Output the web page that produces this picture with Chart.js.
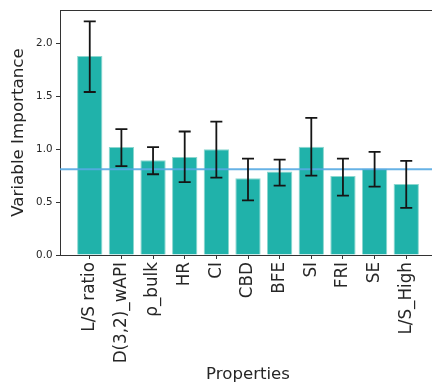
<!DOCTYPE html>
<html>
<head>
<meta charset="utf-8">
<script src="https://cdn.jsdelivr.net/npm/chart.js@4.4.1/dist/chart.umd.min.js"></script>
<style>
  html, body { margin: 0; padding: 0; background: #fff; overflow: hidden; }
  #wrap { width: 440px; height: 388px; }
</style>
</head>
<body>
<div id="wrap"><canvas id="c" width="440" height="388"></canvas></div>
<script>
// Variable importance per property, with error bar bounds
const properties = ['L/S ratio', 'D(3,2)_wAPI', 'ρ_bulk', 'HR', 'CI', 'CBD', 'BFE', 'SI', 'FRI', 'SE', 'L/S_High'];
const importance = [1.88, 1.02, 0.895, 0.925, 1.0, 0.725, 0.788, 1.022, 0.747, 0.814, 0.672];
const errLow  = [1.54, 0.84, 0.763, 0.688, 0.731, 0.517, 0.656, 0.75, 0.561, 0.646, 0.445];
const errHigh = [2.207, 1.19, 1.019, 1.167, 1.261, 0.911, 0.902, 1.296, 0.911, 0.974, 0.889];
const threshold = 0.81;
const yTicks = [0, 0.5, 1.0, 1.5, 2.0];

const axisColor = '#333333';
const textColor = '#262626';

// Draws the reference line, the error bars and the top spine
const overlay = {
  id: 'overlay',
  afterDatasetsDraw(chart) {
    const { ctx, chartArea, scales } = chart;
    const x = scales.x, y = scales.y;
    ctx.save();
    // horizontal reference line across the axes
    const ty = y.getPixelForValue(threshold);
    ctx.strokeStyle = 'rgba(86,170,226,0.9)';
    ctx.lineWidth = 2;
    ctx.beginPath();
    ctx.moveTo(chartArea.left, ty);
    ctx.lineTo(chartArea.right, ty);
    ctx.stroke();
    // error bars
    ctx.strokeStyle = '#151515';
    ctx.lineWidth = 1.8;
    const cap = 6;
    importance.forEach((v, i) => {
      const px = x.getPixelForValue(i);
      const lo = y.getPixelForValue(errLow[i]);
      const hi = y.getPixelForValue(errHigh[i]);
      ctx.beginPath();
      ctx.moveTo(px, lo); ctx.lineTo(px, hi);
      ctx.moveTo(px - cap, lo); ctx.lineTo(px + cap, lo);
      ctx.moveTo(px - cap, hi); ctx.lineTo(px + cap, hi);
      ctx.stroke();
    });
    // top spine
    ctx.strokeStyle = axisColor;
    ctx.lineWidth = 1;
    ctx.beginPath();
    ctx.moveTo(chartArea.left, Math.round(chartArea.top) + 0.5);
    ctx.lineTo(chartArea.right, Math.round(chartArea.top) + 0.5);
    ctx.stroke();
    ctx.restore();
  }
};

new Chart(document.getElementById('c'), {
  type: 'bar',
  data: {
    datasets: [{
      data: importance.map((v, i) => ({ x: i, y: v })),
      backgroundColor: '#20B2AA',
      borderColor: 'rgba(110,205,195,0.8)',
      borderWidth: 1,
      barPercentage: 0.8,
      categoryPercentage: 1.0
    }]
  },
  options: {
    responsive: false,
    animation: false,
    layout: { padding: { top: 10, right: 4, left: 0, bottom: 0 } },
    plugins: { legend: { display: false }, tooltip: { enabled: false } },
    scales: {
      x: {
        type: 'linear',
        offset: false,
        min: -0.94,
        max: 10.94,
        afterBuildTicks: s => { s.ticks = properties.map((_, i) => ({ value: i })); },
        afterFit: s => { s.height = 133; },
        ticks: {
          autoSkip: false,
          minRotation: 90,
          maxRotation: 90,
          padding: 3,
          color: textColor,
          font: { family: 'DejaVu Sans', size: 16.8 },
          callback: v => properties[v]
        },
        grid: { offset: false, drawOnChartArea: false, drawTicks: true, tickLength: 4, color: axisColor, tickColor: axisColor },
        border: { display: true, color: axisColor, width: 1 },
        title: {
          display: true,
          text: 'Properties',
          color: textColor,
          font: { family: 'DejaVu Sans', size: 16.6 },
          padding: { top: 0, bottom: 3 }
        }
      },
      y: {
        min: 0,
        max: 2.315,
        afterBuildTicks: s => { s.ticks = yTicks.map(v => ({ value: v })); },
        afterFit: s => { s.width = 60; },
        ticks: {
          padding: 3.5,
          color: textColor,
          font: { family: 'DejaVu Sans', size: 10.3 },
          callback: v => v.toFixed(1)
        },
        grid: { drawOnChartArea: false, drawTicks: true, tickLength: 4, color: axisColor, tickColor: axisColor },
        border: { display: true, color: axisColor, width: 1 },
        title: {
          display: true,
          text: 'Variable Importance',
          color: textColor,
          font: { family: 'DejaVu Sans', size: 16.7 },
          padding: { top: 9, bottom: 0 }
        }
      }
    }
  },
  plugins: [overlay]
});
</script>
</body>
</html>
